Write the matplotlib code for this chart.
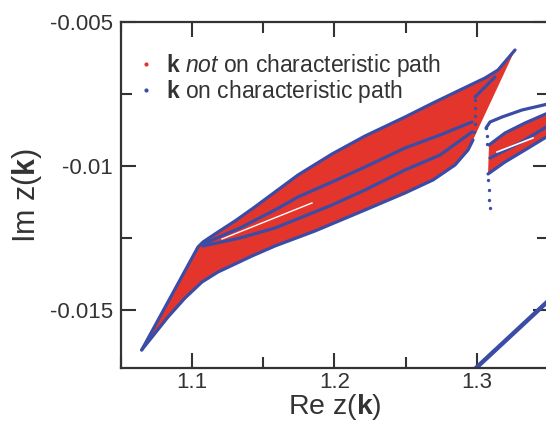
import numpy as np
import matplotlib.pyplot as plt
from matplotlib.lines import Line2D
from matplotlib.ticker import MultipleLocator

plt.rcParams['font.family'] = ['Liberation Sans', 'DejaVu Sans']
plt.rcParams['mathtext.fontset'] = 'custom'
plt.rcParams['mathtext.rm'] = 'Liberation Sans'
plt.rcParams['mathtext.bf'] = 'Liberation Sans:bold'
plt.rcParams['mathtext.it'] = 'Liberation Sans:italic'
plt.rcParams['axes.unicode_minus'] = False

RED = '#e3352b'
BLUE = '#3b4ca6'
INK = '#333333'

# main band: upper and lower boundaries (Re z, Im z)
upper_re = [1.06454, 1.10410, 1.10761, 1.11815, 1.13010, 1.14204, 1.15820, 1.17436,
            1.19825, 1.22143, 1.24954, 1.26921, 1.28959, 1.30575, 1.31488, 1.32683]
upper_im = [-0.016375, -0.012803, -0.012630, -0.012283, -0.011901, -0.011485, -0.010896,
            -0.010306, -0.009578, -0.008954, -0.008295, -0.007809, -0.007324, -0.006942,
            -0.006665, -0.005971]
lower_re = [1.06454, 1.08302, 1.09497, 1.10691, 1.11815, 1.13010, 1.14204, 1.15820,
            1.18630, 1.22143, 1.24954, 1.26921, 1.28467, 1.29380, 1.29731]
lower_im = [-0.016375, -0.015231, -0.014572, -0.014017, -0.013670, -0.013393, -0.013115,
            -0.012768, -0.012248, -0.011520, -0.010930, -0.010479, -0.009959, -0.009439,
            -0.009092]
edge_re = [1.32683, 1.29731]          # red edge without blue points
edge_im = [-0.005971, -0.009092]

# interior characteristic paths
pathA_re = [1.10761, 1.13361, 1.15820, 1.17436, 1.19825, 1.22143, 1.24954, 1.27413, 1.29661]
pathA_im = [-0.012699, -0.012144, -0.011520, -0.011069, -0.010549, -0.010029, -0.009370,
            -0.008919, -0.008468]
pathB_re = [1.10761, 1.13361, 1.15820, 1.19825, 1.22143, 1.24954, 1.27413, 1.29661]
pathB_im = [-0.012768, -0.012491, -0.012144, -0.011346, -0.010826, -0.010133, -0.009613,
            -0.008815]
gap_re = [1.12096, 1.18419]
gap_im = [-0.012526, -0.011276]
join_re = [1.29872, 1.31277]
join_im = [-0.007601, -0.006907]
dots1_re = [1.2990, 1.2988, 1.2986, 1.2984, 1.2982]
dots1_im = [-0.007705, -0.007982, -0.008260, -0.008537, -0.008815]

# second band near Re z = 1.31
outer2_re = [1.30645, 1.30926, 1.31769, 1.33174, 1.35000]
outer2_im = [-0.008676, -0.008468, -0.008295, -0.008052, -0.007843]
up2_re = [1.30856, 1.31980, 1.33385, 1.35000]
up2_im = [-0.009266, -0.008849, -0.008503, -0.008156]
lo2_re = [1.30786, 1.31980, 1.33385, 1.35000]
lo2_im = [-0.010271, -0.009855, -0.009439, -0.008954]
mid2_re = [1.30926, 1.33034, 1.35000]
mid2_im = [-0.009716, -0.009190, -0.008607]
gap2_re = [1.31418, 1.33947]
gap2_im = [-0.009508, -0.009023]
dots2_re = [1.3065, 1.3068, 1.3072, 1.3080, 1.3084, 1.3088, 1.3092]
dots2_im = [-0.008676, -0.008954, -0.009231, -0.010479, -0.010826, -0.011173, -0.011450]

# third band, lower right corner
lr_re = [1.2980, 1.3520]
lr_im = [-0.017066, -0.014590]

fig = plt.figure(figsize=(5.46, 4.24), dpi=100)
ax = fig.add_axes([121 / 546, 56 / 424, 427 / 546, 346 / 424])

poly_re = upper_re + edge_re + lower_re[::-1]
poly_im = upper_im + edge_im + lower_im[::-1]
ax.fill(poly_re, poly_im, color=RED, lw=0)

poly2_re = up2_re + lo2_re[::-1]
poly2_im = up2_im + lo2_im[::-1]
ax.fill(poly2_re, poly2_im, color=RED, lw=0)

lw = 2.3
for xs, ys in [(upper_re, upper_im), (lower_re, lower_im), (pathA_re, pathA_im),
               (pathB_re, pathB_im), (join_re, join_im), (outer2_re, outer2_im),
               (up2_re, up2_im), (lo2_re, lo2_im), (mid2_re, mid2_im)]:
    ax.plot(xs, ys, color=BLUE, lw=lw, solid_capstyle='round', solid_joinstyle='round')
ax.plot(lr_re, lr_im, color=BLUE, lw=3.2)
ax.plot(gap_re, gap_im, color='white', lw=1.0)
ax.plot(gap2_re, gap2_im, color='white', lw=1.2)
ax.plot(dots1_re, dots1_im, 'o', color=BLUE, ms=2.4, mew=0)
ax.plot(dots2_re, dots2_im, 'o', color=BLUE, ms=2.4, mew=0)

ax.set_xlim(1.05, 1.35)
ax.set_ylim(-0.017, -0.005)
ax.set_xticks([1.1, 1.2, 1.3])
ax.set_xticklabels(['1.1', '1.2', '1.3'])
ax.set_yticks([-0.015, -0.01, -0.005])
ax.set_yticklabels(['-0.015', '-0.01', '-0.005'])
ax.xaxis.set_minor_locator(MultipleLocator(0.05))
ax.yaxis.set_minor_locator(MultipleLocator(0.0025))
ax.tick_params(which='both', direction='in', top=True, right=True, color=INK,
               width=1.5, labelsize=16, labelcolor=INK)
ax.tick_params(which='major', length=11)
ax.tick_params(which='minor', length=8)
ax.tick_params(axis='y', pad=6)
ax.tick_params(axis='x', pad=3)
for s in ax.spines.values():
    s.set_color(INK)
    s.set_linewidth(1.6)

ax.set_xlabel(r'Re z($\mathbf{k}$)', fontsize=20.5, color=INK, labelpad=-1)
ax.set_ylabel(r'Im z($\mathbf{k}$)', fontsize=22, color=INK, labelpad=4)

handles = [Line2D([], [], ls='', marker='o', color=RED, ms=3, mew=0),
           Line2D([], [], ls='', marker='o', color=BLUE, ms=3, mew=0)]
labels = [r'$\mathbf{k}$ $\mathit{not}$ on characteristic path',
          r'$\mathbf{k}$ on characteristic path']
ax.legend(handles, labels, loc='upper left', bbox_to_anchor=(0.02, 0.94), frameon=False,
          fontsize=16.5, handlelength=0.6, handletextpad=0.6, labelspacing=-0.05,
          borderaxespad=0, labelcolor=INK)

fig.savefig('out.png', dpi=100)
